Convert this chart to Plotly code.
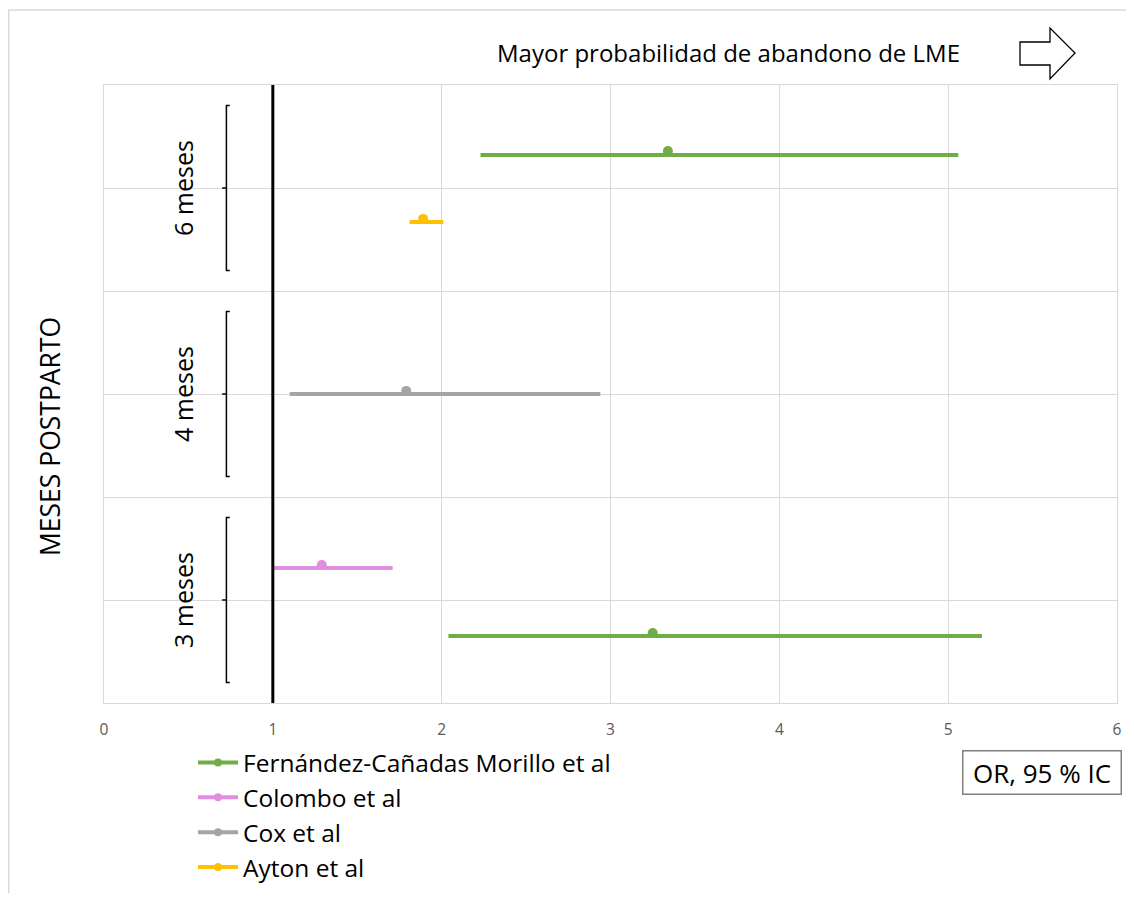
import plotly.graph_objects as go

# ---------------- data ----------------
studies = ["Fernández-Cañadas Morillo et al", "Colombo et al", "Cox et al", "Ayton et al"]
colors = ["#70AD47", "#DF8EE0", "#A5A5A5", "#FFC000"]

# one row per estimate
est_study = ["Fernández-Cañadas Morillo et al", "Ayton et al", "Cox et al",
             "Colombo et al", "Fernández-Cañadas Morillo et al"]
est_or = [3.34, 1.89, 1.79, 1.29, 3.25]
est_lo = [2.23, 1.81, 1.10, 1.00, 2.04]
est_hi = [5.06, 2.01, 2.94, 1.71, 5.20]
est_ci_y = [5.32, 4.67, 3.00, 1.31, 0.65]
est_pt_y = [5.36, 4.70, 3.03, 1.34, 0.68]

groups = ["6 meses", "4 meses", "3 meses"]
group_y = [5.0, 3.0, 1.0]
group_half = 0.8

x_ticks = [0, 1, 2, 3, 4, 5, 6]
ref_or = 1

title_text = "Mayor probabilidad de abandono de LME"
y_title = "MESES POSTPARTO"
box_text = "OR, 95 % IC"

FONT = "Open Sans, sans-serif"

# ---------------- layout geometry ----------------
# page body has an 8px margin; figure is placed at screen (8, 8)
OFF = 8
W, H = 1118, 885
SL, SR, ST, SB = 104, 1117, 85, 703  # plot area in screen pixels


def px(xs):
    return (xs - SL) / (SR - SL)


def py(ys):
    return (SB - ys) / (SB - ST)


fig = go.Figure()

for s, c in zip(studies, colors):
    xs, ys, mx, my = [], [], [], []
    for st, o, lo, hi, cy, pyv in zip(est_study, est_or, est_lo, est_hi, est_ci_y, est_pt_y):
        if st != s:
            continue
        xs += [lo, hi, None]
        ys += [cy, cy, None]
        mx.append(o)
        my.append(pyv)
    fig.add_trace(go.Scatter(x=xs, y=ys, mode="lines", line=dict(color=c, width=4),
                             showlegend=False, hoverinfo="skip"))
    fig.add_trace(go.Scatter(x=mx, y=my, mode="markers", marker=dict(color=c, size=10),
                             showlegend=False, name=s))
    fig.add_trace(go.Scatter(x=[None], y=[None], mode="lines+markers", name=s,
                             line=dict(color=c, width=4), marker=dict(color=c, size=8)))

# reference line at OR = 1
fig.add_shape(type="line", x0=ref_or, x1=ref_or, y0=0, y1=6, xref="x", yref="y",
              line=dict(color="black", width=3))

# group brackets and labels
bx = 0.725
dxr = 0.02
dxl = 0.025
for g, gy in zip(groups, group_y):
    top, bot = gy + group_half, gy - group_half
    path = (f"M {bx + dxr},{top} L {bx},{top} L {bx},{bot} L {bx + dxr},{bot} "
            f"M {bx},{gy} L {bx - dxl},{gy}")
    fig.add_shape(type="path", path=path, xref="x", yref="y",
                  line=dict(color="black", width=1.5))
    fig.add_annotation(x=0.468, y=gy, xref="x", yref="y", text=g, textangle=-90,
                       xanchor="center", yanchor="middle",
                       showarrow=False, font=dict(family=FONT, size=25, color="black"))

# y title
fig.add_annotation(x=px(50), y=py(437), xref="paper", yref="paper", text=y_title,
                   textangle=-90, showarrow=False, xanchor="center", yanchor="middle",
                   font=dict(family=FONT, size=26.5, color="black"))

# top title
fig.add_annotation(x=px(495), y=py(52), xref="paper", yref="paper", text=title_text,
                   xanchor="left", yanchor="middle", showarrow=False,
                   font=dict(family=FONT, size=24, color="black"))

# arrow shape
pts = [(1020, 42), (1050, 42), (1050, 28), (1075, 53), (1050, 79), (1050, 65), (1020, 65)]
path = "M " + " L ".join(f"{px(a)},{py(b)}" for a, b in pts) + " Z"
fig.add_shape(type="path", path=path, xref="paper", yref="paper",
              line=dict(color="black", width=1.3), fillcolor="white")

# OR box
fig.add_annotation(x=px(1041.5), y=py(772), xref="paper", yref="paper", text=box_text,
                   xanchor="center", yanchor="middle",
                   showarrow=False, width=157, height=42, bordercolor="#808080",
                   borderwidth=1.5, borderpad=0, bgcolor="white",
                   font=dict(family=FONT, size=26, color="black"))

# outer frame
fig.add_shape(type="rect", x0=px(8.8), x1=px(1160), y0=py(10), y1=py(930),
              xref="paper", yref="paper", line=dict(color="#D9D9D9", width=1.5))

fig.update_xaxes(range=[0, 6], tickvals=x_ticks, showgrid=True, gridcolor="#D9D9D9",
                 gridwidth=1, zeroline=False, showline=True, linecolor="#D9D9D9",
                 mirror=True, ticks="", ticklabelstandoff=12,
                 tickfont=dict(family=FONT, size=15.5, color="#595959"))
fig.update_yaxes(range=[0, 6], dtick=1, showgrid=True, gridcolor="#D9D9D9", gridwidth=1,
                 zeroline=False, showline=True, linecolor="#D9D9D9", mirror=True,
                 showticklabels=False, ticks="")

fig.update_layout(
    width=W, height=H,
    margin=dict(l=SL - OFF, r=W - (SR - OFF), t=ST - OFF, b=H - (SB - OFF),
                autoexpand=False),
    paper_bgcolor="white", plot_bgcolor="white",
    showlegend=True,
    legend=dict(x=px(193), y=py(740), xanchor="left", yanchor="top",
                font=dict(family=FONT, size=24.5, color="black"),
                bgcolor="rgba(0,0,0,0)", itemwidth=40, tracegroupgap=0),
    font=dict(family=FONT),
)

fig.write_html("out.html")
